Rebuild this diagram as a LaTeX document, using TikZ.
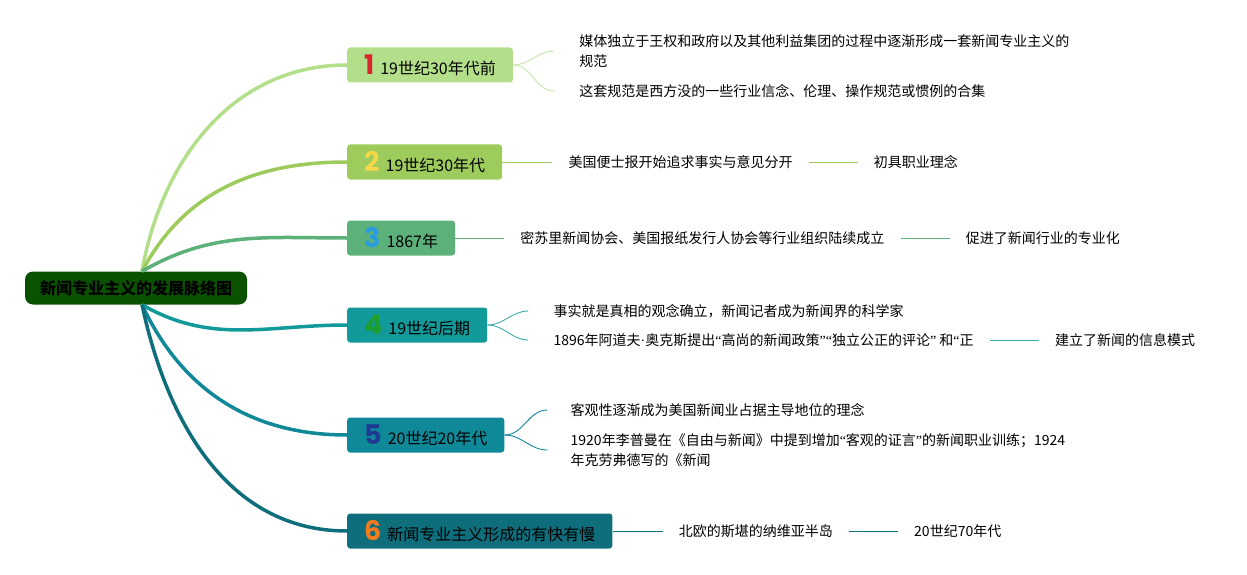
\documentclass[tikz,border=0pt]{standalone}
\usepackage{fontspec}
\setmainfont{Noto Sans CJK SC}
\newfontfamily\numfont{Poppins}
\newfontfamily\qfont{Liberation Serif}
\usetikzlibrary{positioning,calc}
\definecolor{rootc}{HTML}{0B5200}
\definecolor{bra}{HTML}{B3DF8A}
\definecolor{brb}{HTML}{9DCB5C}
\definecolor{brc}{HTML}{5CB07A}
\definecolor{brd}{HTML}{12999A}
\definecolor{bre}{HTML}{0F8898}
\definecolor{brf}{HTML}{0E6E7C}
\definecolor{numa}{HTML}{D7262E}
\definecolor{numb}{HTML}{F5D74A}
\definecolor{numc}{HTML}{2A9BE0}
\definecolor{numd}{HTML}{1E9E2E}
\definecolor{nume}{HTML}{1F3A93}
\definecolor{numf}{HTML}{F47A20}
\newcommand\qo{{\qfont “}}
\newcommand\qc{{\qfont ”}}

\begin{document}
\begin{tikzpicture}[x=1pt,y=-1pt,
    rootbox/.style={fill=rootc,rounded corners=8pt,text=black,inner xsep=15pt,
      minimum height=33pt,font=\fontsize{16}{18}\selectfont\bfseries},
    brbox/.style={fill=#1,rounded corners=3pt,anchor=west,minimum height=35pt,
      inner xsep=17pt,font=\fontsize{16}{18}\selectfont},
    leaf/.style={anchor=west,inner xsep=16pt,inner ysep=3pt,align=left,
      font=\fontsize{14}{20}\selectfont},
    trunk/.style={draw=#1,line width=3.5pt},
    twig/.style={draw=#1,line width=0.9pt}]
  \useasboundingbox (0,0) rectangle (1247,575);
  \node[rootbox] (root) at (136,288) {新闻专业主义的发展脉络图};
  \foreach \num/\lab/\y/\fc/\nc [count=\i] in {
      1/19世纪30年代前/65/bra/numa,
      2/19世纪30年代/162/brb/numb,
      3/1867年/238/brc/numc,
      4/19世纪后期/325/brd/numd,
      5/20世纪20年代/435/bre/nume,
      6/新闻专业主义形成的有快有慢/531/brf/numf} {
    \node[brbox=\fc] (b\i) at (347,\y)
      {{\numfont\bfseries\fontsize{27}{27}\selectfont\color{\nc}\num}\hspace{6pt}\lab};
  }
  % trunks
  \draw[trunk=bra] ([xshift=6pt]root.north) to[out=80,in=180] (b1.west);
  \draw[trunk=brb] ([xshift=6pt]root.north) to[out=62,in=180] (b2.west);
  \draw[trunk=brc] ([xshift=6pt]root.north) to[out=30,in=180] (b3.west);
  \draw[trunk=brd] ([xshift=6pt]root.south) to[out=-30,in=180] (b4.west);
  \draw[trunk=bre] ([xshift=6pt]root.south) to[out=-65,in=180] (b5.west);
  \draw[trunk=brf] ([xshift=6pt]root.south) to[out=-78,in=180] (b6.west);

  % leaves
  \node[leaf,right=50pt of b1,yshift=14pt] (l1a) {媒体独立于王权和政府以及其他利益集团的过程中逐渐形成一套新闻专业主义的\\规范};
  \node[leaf,right=50pt of b1,yshift=-26pt] (l1b) {这套规范是西方没的一些行业信念、伦理、操作规范或惯例的合集};
  \draw[twig=bra!75!white] (b1.east) to[out=0,in=180] ([xshift=-9pt]l1a.west);
  \draw[twig=bra!75!white] (b1.east) to[out=0,in=180] ([xshift=-9pt]l1b.west);

  \node[leaf,right=50pt of b2] (l2a) {美国便士报开始追求事实与意见分开};
  \node[leaf,right=49pt of l2a] (l2b) {初具职业理念};
  \draw[twig=brb] (b2) -- (l2a);
  \draw[twig=brb] (l2a) -- (l2b);

  \node[leaf,right=49pt of b3] (l3a) {密苏里新闻协会、美国报纸发行人协会等行业组织陆续成立};
  \node[leaf,right=49pt of l3a] (l3b) {促进了新闻行业的专业化};
  \draw[twig=brc] (b3) -- (l3a);
  \draw[twig=brc] (l3a) -- (l3b);

  \node[leaf,right=50pt of b4,yshift=14pt] (l4a) {事实就是真相的观念确立，新闻记者成为新闻界的科学家};
  \node[leaf,right=50pt of b4,yshift=-15pt] (l4b) {1896年阿道夫{\qfont ·}奥克斯提出\qo 高尚的新闻政策\qc\qo 独立公正的评论\qc{} 和\qo 正};
  \node[leaf,right=49pt of l4b] (l4c) {建立了新闻的信息模式};
  \draw[twig=brd!80!white] (b4.east) to[out=0,in=180] ([xshift=-9pt]l4a.west);
  \draw[twig=brd!80!white] (b4.east) to[out=0,in=180] ([xshift=-9pt]l4b.west);
  \draw[twig=brd!80!white] (l4b) -- (l4c);

  \node[leaf,right=50pt of b5,yshift=25pt] (l5a) {客观性逐渐成为美国新闻业占据主导地位的理念};
  \node[leaf,right=50pt of b5,yshift=-15pt] (l5b) {1920年李普曼在《自由与新闻》中提到增加\qo 客观的证言\qc 的新闻职业训练；1924\\年克劳弗德写的《新闻};
  \draw[twig=bre] (b5.east) to[out=0,in=180] ([xshift=-7pt]l5a.west);
  \draw[twig=bre] (b5.east) to[out=0,in=180] ([xshift=-7pt]l5b.west);

  \node[leaf,right=50pt of b6] (l6a) {北欧的斯堪的纳维亚半岛};
  \node[leaf,right=49pt of l6a] (l6b) {20世纪70年代};
  \draw[twig=brf] (b6) -- (l6a);
  \draw[twig=brf] (l6a) -- (l6b);
\end{tikzpicture}
\end{document}
